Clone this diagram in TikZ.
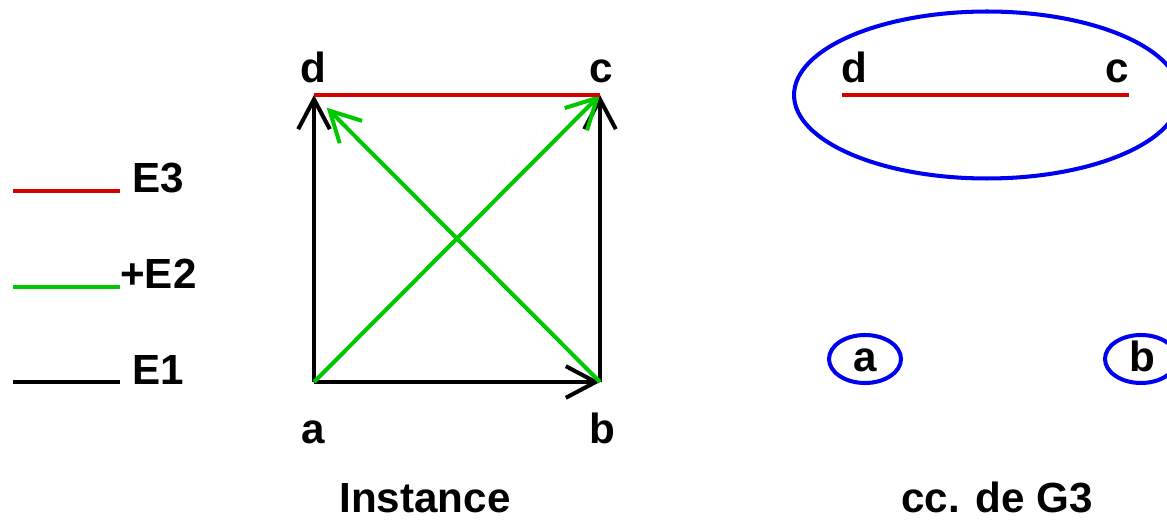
\documentclass[tikz,border=0pt]{standalone}
\usepackage{fontspec}
\setmainfont{Liberation Sans}
\usetikzlibrary{arrows.meta,shapes.geometric}
\definecolor{edgered}{HTML}{D40000}
\definecolor{edgegreen}{HTML}{00C800}
\definecolor{ccblue}{HTML}{0000F0}

\begin{document}
\begin{tikzpicture}[
    x=0.02cm, y=-0.02cm,
    font=\fontsize{24}{28}\selectfont\bfseries,
    edgeone/.style={draw=black, line width=2.3pt},
    edgetwo/.style={draw=edgegreen, line width=2.3pt},
    edgethree/.style={draw=edgered, line width=2.3pt},
    barbed/.style={-{Straight Barb[length=17pt,width=18pt]}},
    vlabel/.style={anchor=base, inner sep=0pt},
    ccnode/.style={
      ellipse,
      draw=ccblue,
      line width=2.3pt,
      inner sep=0pt
    }
  ]
  \clip (0,0) rectangle (1167,520);
  \useasboundingbox (0,0) rectangle (1167,520);

  % legend
  \draw[edgethree] (13,191) -- (120,191);
  \node[anchor=base west, inner sep=0pt] (legthree) at (132,193) {E3};
  \draw[edgetwo] (13,287) -- (120,287);
  \node[anchor=base west, inner sep=0pt] (legtwo) at (120,289) {+E2};
  \draw[edgeone] (13,382) -- (120,382);
  \node[anchor=base west, inner sep=0pt] (legone) at (132,384) {E1};

  % instance
  \coordinate (a) at (314,382);
  \coordinate (b) at (600,382);
  \coordinate (c) at (600,95);
  \coordinate (d) at (314,95);
  \node[vlabel] (la) at (313,443) {a};
  \node[vlabel] (lb) at (602,443) {b};
  \node[vlabel] (lc) at (601,83) {c};
  \node[vlabel] (ld) at (313,83) {d};

  \draw[edgeone, barbed] (a) -- (b);
  \draw[edgeone, barbed] (a) -- (d);
  \draw[edgeone, barbed] (b) -- (c);
  \draw[edgetwo, barbed] (a) -- (c);
  \draw[edgetwo, barbed, shorten >=0.36cm] (b) -- (d);
  \draw[edgethree] (d) -- (c);

  \node[vlabel] (inst) at (425,512) {Instance};

  % cc. de G3
  \node[ccnode, minimum width=7.72cm, minimum height=3.34cm] (ccdc) at (987,95) {};
  \coordinate (d2) at (842,95);
  \coordinate (c2) at (1129,95);
  \node[vlabel] (ld2) at (854,83) {d};
  \node[vlabel] (lc2) at (1117,83) {c};
  \draw[edgethree] (d2) -- (c2);

  \node[ccnode, minimum width=1.44cm, minimum height=0.96cm] (cca) at (865,359) {};
  \node[vlabel] (lca) at (865,372) {a};
  \node[ccnode, minimum width=1.44cm, minimum height=0.96cm] (ccb) at (1141,359) {};
  \node[vlabel] (lcb) at (1142,372) {b};

  \node[vlabel] (ccg) at (997,512) {cc. de G3};
\end{tikzpicture}
\end{document}
